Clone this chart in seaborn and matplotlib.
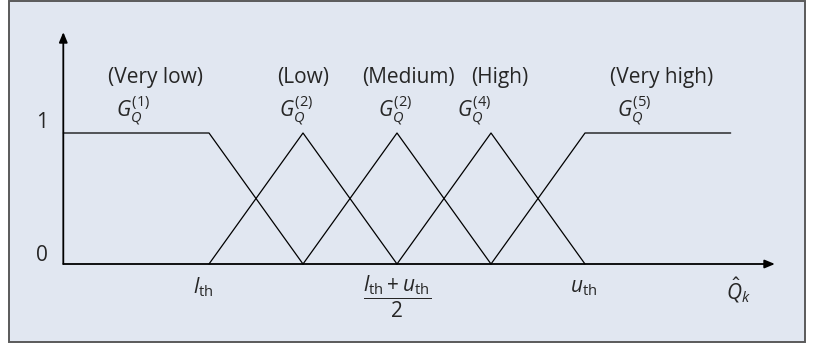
import numpy as np
import pandas as pd
import matplotlib
matplotlib.use("Agg")
import matplotlib.pyplot as plt
from matplotlib.patches import Rectangle
import seaborn as sns

# Membership functions (x in threshold units, l_th = 2, u_th = 6)
x_start = 0.45
l_th = 2.0
u_th = 6.0
x_end = 7.55

set_names = ["very_low", "low", "medium", "high", "very_high"]
very_low_x = [x_start, l_th, 3.0]
very_low_mu = [1, 1, 0]
low_x = [l_th, 3.0, 4.0]
low_mu = [0, 1, 0]
medium_x = [3.0, 4.0, 5.0]
medium_mu = [0, 1, 0]
high_x = [4.0, 5.0, u_th]
high_mu = [0, 1, 0]
very_high_x = [5.0, u_th, x_end]
very_high_mu = [0, 1, 1]

category_labels = ["(Very low)", "(Low)", "(Medium)", "(High)", "(Very high)"]
set_labels = [r"$G_Q^{(1)}$", r"$G_Q^{(2)}$", r"$G_Q^{(2)}$", r"$G_Q^{(4)}$", r"$G_Q^{(5)}$"]
category_x = [1.43, 3.0, 4.12, 5.09, 6.81]
set_label_x = [1.19, 2.93, 3.98, 4.82, 6.52]

xs = [very_low_x, low_x, medium_x, high_x, very_high_x]
mus = [very_low_mu, low_mu, medium_mu, high_mu, very_high_mu]
df = pd.DataFrame({
    "x": sum(xs, []),
    "mu": sum(mus, []),
    "set": sum([[n] * len(v) for n, v in zip(set_names, xs)], []),
})

sns.set_style("white")
plt.rcParams["font.family"] = ["Open Sans", "DejaVu Sans"]
plt.rcParams["mathtext.fontset"] = "custom"
plt.rcParams["mathtext.rm"] = "Open Sans"
plt.rcParams["mathtext.it"] = "Open Sans:italic"
plt.rcParams["mathtext.bf"] = "Open Sans:bold"

fig = plt.figure(figsize=(8.18, 3.47), dpi=100)
fig.patches.append(Rectangle((9 / 818, 5 / 347), 796 / 818, 341 / 347,
                             transform=fig.transFigure, facecolor="#e1e7f1",
                             edgecolor="#5a5a5a", lw=1.4, zorder=-5))

ax = fig.add_axes([0, 0, 1, 1])
ax.patch.set_alpha(0)
sns.lineplot(data=df, x="x", y="mu", units="set", estimator=None, sort=False,
             color="black", lw=0.9, ax=ax, legend=False)

ax.set_xlim(2 - 209 / 94, 2 + 609 / 94)
ax.set_ylim(-83 / 131, 264 / 131)
ax.set_axis_off()

# axes with arrows
arrow = dict(arrowstyle="-|>,head_length=0.6,head_width=0.25", color="black", lw=1.3,
             shrinkA=0, shrinkB=0)
ax.annotate("", xy=(x_start, 1.77), xytext=(x_start, 0), arrowprops=arrow)
ax.annotate("", xy=(8.02, 0), xytext=(x_start, 0), arrowprops=arrow)

fs = 15
for cx, lab in zip(category_x, category_labels):
    ax.text(cx, 1.42, lab, ha="center", va="center", fontsize=fs)
for gx, lab in zip(set_label_x, set_labels):
    ax.text(gx, 1.175, lab, ha="center", va="center", fontsize=fs)

# y tick labels
ax.text(0.22, 1.08, "1", ha="center", va="center", fontsize=fs)
ax.text(0.22, 0.062, "0", ha="center", va="center", fontsize=fs)

# x tick labels
ax.text(l_th - 0.06, -0.18, r"$l_{\mathrm{th}}$", ha="center", va="center", fontsize=fs)
ax.text((l_th + u_th) / 2, -0.255, r"$\dfrac{l_{\mathrm{th}}+u_{\mathrm{th}}}{2}$",
        ha="center", va="center", fontsize=fs)
ax.text(u_th - 0.02, -0.18, r"$u_{\mathrm{th}}$", ha="center", va="center", fontsize=fs)
ax.text(7.63, -0.2, r"$\hat{Q}_k$", ha="center", va="center", fontsize=fs)

fig.savefig("out.png", dpi=100)
